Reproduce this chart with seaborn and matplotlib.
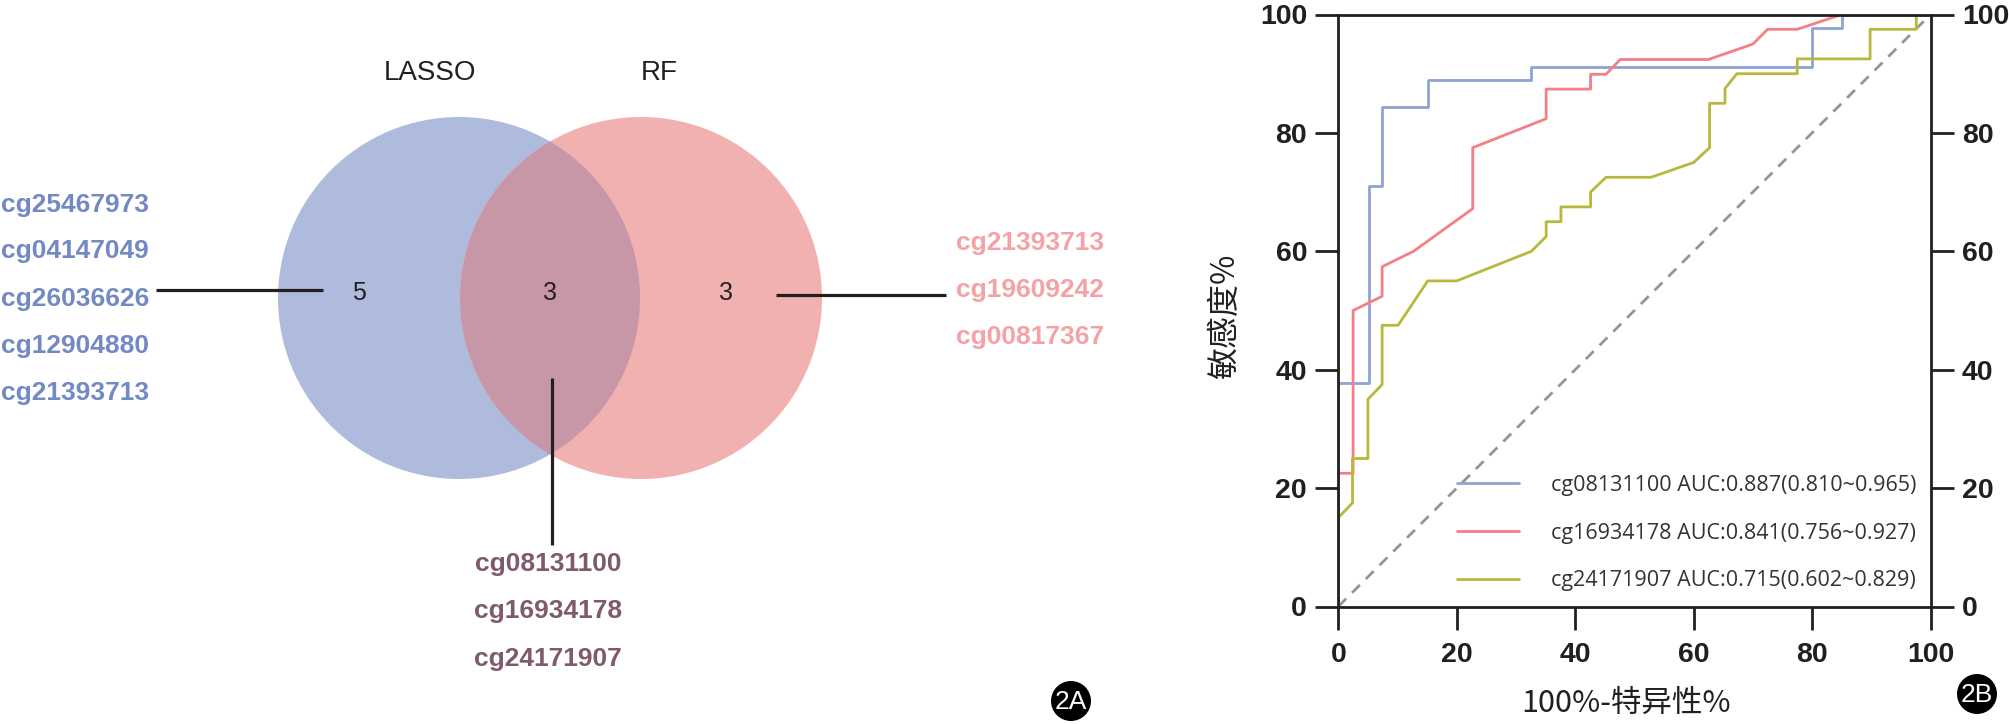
import numpy as np
import pandas as pd
import matplotlib
matplotlib.use("Agg")
import matplotlib.pyplot as plt
from matplotlib.patches import Circle
from matplotlib.lines import Line2D
import seaborn as sns

# ---------------- data ----------------
set_names = ["LASSO", "RF"]
venn_counts = [5, 3, 3]           # LASSO only, shared, RF only
lasso_only = ["cg25467973", "cg04147049", "cg26036626", "cg12904880", "cg21393713"]
rf_only = ["cg21393713", "cg19609242", "cg00817367"]
shared = ["cg08131100", "cg16934178", "cg24171907"]

roc_labels = [
    "cg08131100 AUC:0.887(0.810~0.965)",
    "cg16934178 AUC:0.841(0.756~0.927)",
    "cg24171907 AUC:0.715(0.602~0.829)",
]
blue_x = [0, 0, 5.1, 5.1, 7.4, 7.4, 15.1, 15.1, 32.6, 32.6, 80.0, 80.0, 85.0, 85.0, 100]
blue_y = [0, 37.8, 37.8, 71.1, 71.1, 84.4, 84.4, 88.9, 88.9, 91.1, 91.1, 97.8, 97.8, 100, 100]
red_x = [0, 0, 2.5, 2.5, 7.4, 7.4, 12.7, 22.7, 22.7, 35.1, 35.1, 42.6, 42.6, 45.2, 47.6,
         62.5, 70.0, 72.5, 77.5, 85.0, 100]
red_y = [0, 22.5, 22.5, 50.0, 52.4, 57.4, 60.0, 67.2, 77.5, 82.4, 87.4, 87.4, 89.9, 89.9, 92.4,
         92.4, 95.0, 97.5, 97.5, 100, 100]
yellow_x = [0, 0, 2.4, 2.4, 5.0, 5.0, 7.4, 7.4, 10.1, 15.1, 20.0, 32.6, 35.1, 35.1, 37.6, 37.6,
            42.6, 42.6, 45.2, 52.8, 60.0, 62.7, 62.7, 65.3, 65.3, 67.3, 77.5, 77.5, 89.8, 89.8,
            97.6, 97.6, 100]
yellow_y = [0, 15.0, 17.5, 25.0, 25.0, 35.0, 37.5, 47.5, 47.5, 55.0, 55.0, 60.0, 62.5, 65.0,
            65.0, 67.5, 67.5, 70.0, 72.5, 72.5, 75.0, 77.5, 85.0, 85.0, 87.5, 90.0, 90.0, 92.5,
            92.5, 97.5, 97.5, 100, 100]
tick_vals = [0, 20, 40, 60, 80, 100]
x_title = "100%-特异性%"
y_title = "敏感度%"

# ---------------- style ----------------
sns.set_style("white")
plt.rcParams["font.family"] = ["Liberation Sans", "DejaVu Sans"]
CJK = ["Noto Sans CJK SC", "DejaVu Sans"]
INK = "#231F20"
roc_colors = ["#8DA4D4", "#F47F84", "#B8B83C"]

fig = plt.figure(figsize=(20.09, 7.24), dpi=100)

# ---------------- Venn panel (pixel coordinates) ----------------
bg = fig.add_axes([0, 0, 1, 1])
bg.set_xlim(0, 2009)
bg.set_ylim(724, 0)
bg.axis("off")

c_left = Circle((459, 298), 181, fc="#AEBBDD", ec="none", zorder=1)
c_right = Circle((641, 298), 181, fc="#F2B1B1", ec="none", zorder=1)
bg.add_patch(c_left)
bg.add_patch(c_right)
c_over = Circle((641, 298), 181, fc="#C897A7", ec="none", zorder=2)
bg.add_patch(c_over)
c_over.set_clip_path(c_left)

for name, x in zip(set_names, [430, 659]):
    bg.text(x, 73, name, ha="center", va="center", fontsize=20, color=INK)
for n, x in zip(venn_counts, [359, 550, 726]):
    bg.text(x, 293, str(n), ha="center", va="center", fontsize=18, color=INK, zorder=3)

bg.plot([156, 323], [290, 290], color=INK, lw=2.3, zorder=3, solid_capstyle="butt")
bg.plot([776, 946], [295, 295], color=INK, lw=2.3, zorder=3, solid_capstyle="butt")
bg.plot([552, 552], [378, 545], color=INK, lw=2.3, zorder=3, solid_capstyle="butt")

for lab, y in zip(lasso_only, [205, 251, 299, 346, 393]):
    bg.text(1, y, lab, ha="left", va="center", fontsize=19, fontweight="bold", color="#7289C5")
for lab, y in zip(rf_only, [243, 290, 337]):
    bg.text(956, y, lab, ha="left", va="center", fontsize=19, fontweight="bold", color="#F4A2A6")
for lab, y in zip(shared, [564, 611, 659]):
    bg.text(548, y, lab, ha="center", va="center", fontsize=19, fontweight="bold", color="#7E5A6C")

for (cx, cy), txt in zip([(1071, 701), (1977, 694)], ["2A", "2B"]):
    bg.add_patch(Circle((cx, cy), 20, fc="black", ec="none", zorder=4))
    bg.text(cx, cy + 1, txt, ha="center", va="center", fontsize=19, color="white", zorder=5)

# ---------------- ROC panel ----------------
L, R, T, B = 1338.3, 1930.5, 14.5, 606.5
ax = fig.add_axes([L / 2009, (724 - B) / 724, (R - L) / 2009, (B - T) / 724])
ax.patch.set_alpha(0)

frames = []
for lab, xs, ys in zip(roc_labels, [blue_x, red_x, yellow_x], [blue_y, red_y, yellow_y]):
    frames.append(pd.DataFrame({"fpr": xs, "tpr": ys, "marker": lab, "order": np.arange(len(xs))}))
df = pd.concat(frames, ignore_index=True)

ax.plot([0, 100], [0, 100], color="#9A9297", lw=2.0, dashes=(4, 3), zorder=1)
sns.lineplot(data=df, x="fpr", y="tpr", hue="marker", hue_order=roc_labels,
             palette=roc_colors, sort=False, estimator=None, lw=2.0, ax=ax, legend=False, zorder=2)

ax.set_xlim(0, 100)
ax.set_ylim(0, 100)
ax.set_xticks(tick_vals)
ax.set_yticks(tick_vals)
for s in ax.spines.values():
    s.set_linewidth(2.0)
    s.set_color(INK)
    s.set_visible(True)
ax.tick_params(axis="both", direction="out", length=16.5, width=2.0, color=INK,
               labelsize=20.5, labelcolor=INK)
ax.tick_params(axis="y", left=True, right=True, labelleft=True, labelright=True, pad=6)
ax.tick_params(axis="x", bottom=True, top=False, pad=9)
for t in ax.get_xticklabels() + ax.get_yticklabels():
    t.set_fontweight("bold")

ax.set_xlabel(x_title, family=CJK, fontsize=22, color=INK, va="center", ha="center")
ax.xaxis.set_label_coords((1626 - L) / (R - L), -(703 - B) / (B - T))
ax.set_ylabel(y_title, family=CJK, fontsize=23, color=INK, va="center", ha="center")
ax.yaxis.set_label_coords((1225 - L) / (R - L), (B - 316) / (B - T))

handles = [Line2D([], [], color=c, lw=2.0) for c in roc_colors]
leg = ax.legend(handles, roc_labels, loc="center left",
                bbox_to_anchor=((1457 - L) / (R - L), (B - 533) / (B - T)),
                frameon=False, borderaxespad=0, borderpad=0,
                handlelength=2.9, handletextpad=1.45, labelspacing=1.25,
                prop={"family": ["Open Sans", "DejaVu Sans"], "size": 15.5})
for t in leg.get_texts():
    t.set_color("#333333")

fig.savefig("out.png", dpi=100, facecolor="white")
